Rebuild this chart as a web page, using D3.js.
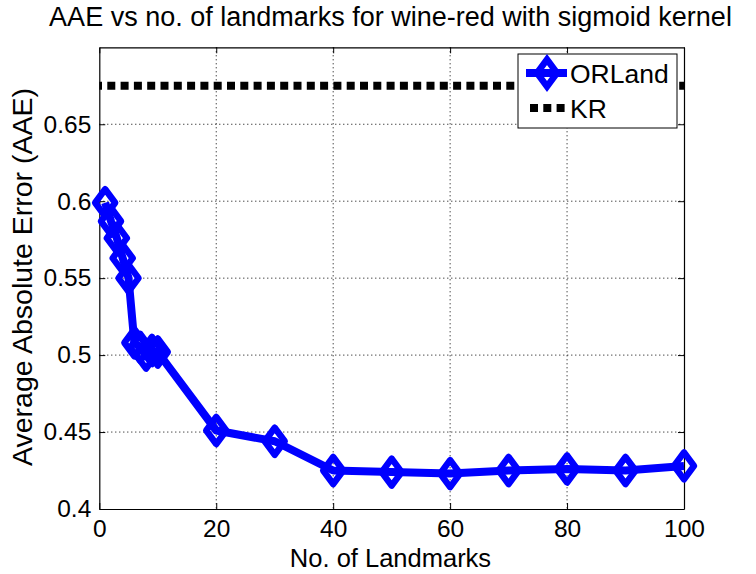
<!DOCTYPE html>
<html>
<head>
<meta charset="utf-8">
<script src="https://d3js.org/d3.v7.min.js"></script>
<style>
  body { margin: 0; background: #fff; }
  svg { display: block; font-family: "Liberation Sans", Arial, Helvetica, sans-serif; }
</style>
</head>
<body>
<div id="chart"></div>
<script>
// data
var landmarks = [1, 2, 3, 4, 5, 6, 7, 8, 9, 10, 20, 30, 40, 50, 60, 70, 80, 90, 100];
var orlandAAE = [0.599, 0.587, 0.576, 0.563, 0.550, 0.508, 0.505, 0.500, 0.503, 0.502,
                 0.451, 0.444, 0.425, 0.424, 0.423, 0.425, 0.426, 0.425, 0.428];
var krX = [0, 100];
var krAAE = [0.675, 0.675];
var xTicks = [0, 20, 40, 60, 80, 100];
var yTicks = [0.4, 0.45, 0.5, 0.55, 0.6, 0.65];
var seriesNames = ["ORLand", "KR"];

var width = 756, height = 574;
var m = {left: 99.3, right: 684, top: 47.3, bottom: 509};

var x = d3.scaleLinear().domain([0, 100]).range([m.left, m.right]);
var y = d3.scaleLinear().domain([0.4, 0.7]).range([m.bottom, m.top]);

var svg = d3.select("#chart").append("svg")
    .attr("width", width).attr("height", height);

// dotted grid
svg.append("g").selectAll("line").data(xTicks.slice(1, -1)).enter().append("line")
    .attr("x1", d => x(d)).attr("x2", d => x(d))
    .attr("y1", m.top).attr("y2", m.bottom)
    .attr("stroke", "black").attr("stroke-width", 1).attr("stroke-dasharray", "1,3");
svg.append("g").selectAll("line").data(yTicks.slice(1)).enter().append("line")
    .attr("x1", m.left).attr("x2", m.right)
    .attr("y1", d => y(d)).attr("y2", d => y(d))
    .attr("stroke", "black").attr("stroke-width", 1).attr("stroke-dasharray", "1,3");

// axes, ticks inside, mirrored on top/right
var tl = 6;
svg.append("g").attr("transform", "translate(0," + m.bottom + ")")
    .call(d3.axisBottom(x).tickValues(xTicks).tickSize(-tl).tickSizeOuter(0).tickPadding(11).tickFormat(d3.format("d")));
svg.append("g").attr("transform", "translate(0," + m.top + ")")
    .call(d3.axisTop(x).tickValues(xTicks).tickSize(-tl).tickSizeOuter(0).tickFormat(""));
svg.append("g").attr("transform", "translate(" + m.left + ",0)")
    .call(d3.axisLeft(y).tickValues(yTicks).tickSize(-tl).tickSizeOuter(0).tickPadding(8).tickFormat(d => String(+d.toFixed(2))));
svg.append("g").attr("transform", "translate(" + m.right + ",0)")
    .call(d3.axisRight(y).tickValues(yTicks).tickSize(-tl).tickSizeOuter(0).tickFormat(""));

svg.selectAll(".domain").attr("stroke", "black").attr("stroke-width", 1.2);
svg.selectAll(".tick line").attr("stroke", "black");
svg.selectAll(".tick text").attr("font-size", 24.5).attr("fill", "black")
    .attr("font-family", "Liberation Sans, Arial, sans-serif");

// KR dashed line
var line = d3.line().x(d => x(d[0])).y(d => y(d[1]));
svg.append("path")
    .datum(krX.map((v, i) => [v, krAAE[i]]))
    .attr("d", line)
    .attr("fill", "none").attr("stroke", "black")
    .attr("stroke-width", 8).attr("stroke-dasharray", "8,5.3").attr("stroke-dashoffset", -8);

// ORLand line + diamonds
var blue = "#0000ff";
svg.append("path")
    .datum(landmarks.map((v, i) => [v, orlandAAE[i]]))
    .attr("d", line)
    .attr("fill", "none").attr("stroke", blue)
    .attr("stroke-width", 8).attr("stroke-linejoin", "round");

function diamond(cx, cy) {
  var w = 10, h = 13.5;
  return "M" + cx + "," + (cy - h) + "L" + (cx + w) + "," + cy +
         "L" + cx + "," + (cy + h) + "L" + (cx - w) + "," + cy + "Z";
}
svg.append("g").selectAll("path").data(landmarks).enter().append("path")
    .attr("d", (d, i) => diamond(x(d), y(orlandAAE[i])))
    .attr("fill", "none").attr("stroke", blue).attr("stroke-width", 6.5)
    .attr("stroke-linejoin", "round");

// legend
var lg = svg.append("g");
lg.append("rect").attr("x", 518).attr("y", 54).attr("width", 159).attr("height", 74)
    .attr("fill", "white").attr("stroke", "black").attr("stroke-width", 1);
lg.append("line").attr("x1", 526).attr("x2", 567).attr("y1", 73).attr("y2", 73)
    .attr("stroke", blue).attr("stroke-width", 8);
lg.append("path").attr("d", diamond(547, 73))
    .attr("fill", "none").attr("stroke", blue).attr("stroke-width", 6.5);
lg.append("line").attr("x1", 530).attr("x2", 568).attr("y1", 108).attr("y2", 108)
    .attr("stroke", "black").attr("stroke-width", 8).attr("stroke-dasharray", "8,5.3");
lg.selectAll("text").data(seriesNames).enter().append("text")
    .attr("x", 570).attr("y", (d, i) => 83 + i * 35)
    .attr("font-size", 26.5).text(d => d);

// titles
svg.append("text").attr("x", 390.5).attr("y", 26).attr("text-anchor", "middle")
    .attr("font-size", 27).text("AAE vs no. of landmarks for wine-red with sigmoid kernel");
svg.append("text").attr("x", 390.5).attr("y", 567).attr("text-anchor", "middle")
    .attr("font-size", 25.5).text("No. of Landmarks");
svg.append("text").attr("transform", "translate(32,277) rotate(-90)").attr("text-anchor", "middle")
    .attr("font-size", 28.5).text("Average Absolute Error (AAE)");
</script>
</body>
</html>
